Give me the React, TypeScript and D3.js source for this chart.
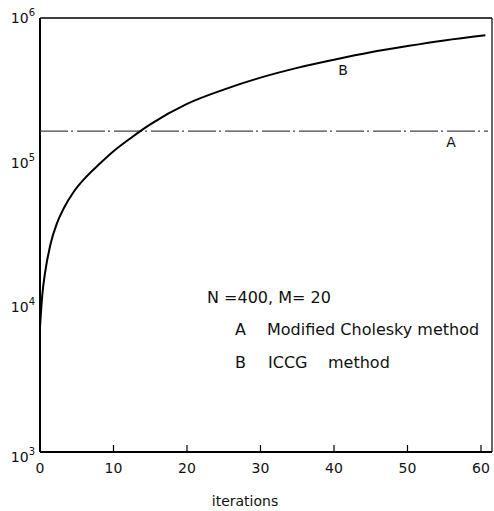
import React from "react";
import * as d3 from "d3";

// ICCG method cost vs. iteration count (curve B)
const iccgIterations = [0, 0.3, 0.7, 1.4, 2.3, 3.2, 4.5, 6, 8, 10, 12.5, 15, 20, 25, 30, 35, 40, 45, 50, 55, 60.6];
const iccgCost = [7.3e3, 1.2e4, 1.75e4, 2.7e4, 3.8e4, 4.8e4, 6.2e4, 7.7e4, 9.7e4, 1.2e5, 1.5e5, 1.84e5, 2.55e5, 3.2e5, 3.87e5, 4.52e5, 5.15e5, 5.8e5, 6.4e5, 7.0e5, 7.6e5];

// Modified Cholesky method cost (constant, line A)
const choleskyCost = 1.65e5;

const xTicks = [0, 10, 20, 30, 40, 50, 60];
const yExponents = [3, 4, 5, 6];

const W = 494;
const H = 511;
const left = 40;
const right = 492;
const top = 18;
const bottom = 452;

const font = "'DejaVu Sans', sans-serif";

export default function App() {
  const x = d3.scaleLinear().domain([0, 61.5]).range([left, right]);
  const y = d3.scaleLog().domain([1e3, 1e6]).range([bottom, top]);

  const pts: [number, number][] = iccgIterations.map((it, i) => [it, iccgCost[i]]);
  const line = d3
    .line<[number, number]>()
    .x((d) => x(d[0]))
    .y((d) => y(d[1]))
    .curve(d3.curveMonotoneX);

  return (
    <svg
      width={W}
      height={H}
      style={{ position: "absolute", left: 0, top: 0, background: "#fff" }}
      fontFamily={font}
    >
      {/* frame */}
      <line x1={left} x2={right} y1={top} y2={top} stroke="#000" strokeWidth={1.5} />
      <line x1={right} x2={right} y1={top} y2={bottom} stroke="#000" strokeWidth={1.2} />
      <line x1={left} x2={left} y1={top} y2={bottom} stroke="#000" strokeWidth={2} />
      <line x1={left} x2={right} y1={bottom} y2={bottom} stroke="#000" strokeWidth={2} />

      {/* x ticks and labels */}
      {xTicks.map((t) => (
        <g key={t}>
          {t > 0 && (
            <line x1={x(t)} x2={x(t)} y1={bottom} y2={bottom - 7} stroke="#000" strokeWidth={1.2} />
          )}
          <text x={x(t)} y={473} textAnchor="middle" fontSize={14} fill="#111">
            {t}
          </text>
        </g>
      ))}
      <text x={245} y={506} textAnchor="middle" fontSize={14} fill="#111">
        iterations
      </text>

      {/* y labels (powers of ten) */}
      {yExponents.map((e) => (
        <text
          key={e}
          x={35}
          y={y(Math.pow(10, e)) + (e === 3 ? 10 : 5)}
          textAnchor="end"
          fontSize={14}
          fill="#111"
        >
          <tspan>10</tspan>
          <tspan dy={-7} fontSize={10}>
            {e}
          </tspan>
        </text>
      ))}

      {/* line A: modified Cholesky */}
      <line
        x1={left}
        x2={right - 4}
        y1={y(choleskyCost)}
        y2={y(choleskyCost)}
        stroke="#444"
        strokeWidth={1.2}
        strokeDasharray="28 3 2 4"
      />
      <text x={451} y={y(choleskyCost) + 16} textAnchor="middle" fontSize={14} fill="#111">
        A
      </text>

      {/* curve B: ICCG */}
      <path d={line(pts) ?? ""} fill="none" stroke="#000" strokeWidth={2} />
      <text x={343} y={75} textAnchor="middle" fontSize={14} fill="#111">
        B
      </text>

      {/* legend */}
      <g fontSize={16} fill="#111">
        <text x={207} y={303}>N =400, M= 20</text>
        <text x={235} y={335}>A</text>
        <text x={267} y={335}>Modified Cholesky method</text>
        <text x={235} y={368}>B</text>
        <text x={268} y={368}>ICCG</text>
        <text x={328} y={368}>method</text>
      </g>
    </svg>
  );
}
